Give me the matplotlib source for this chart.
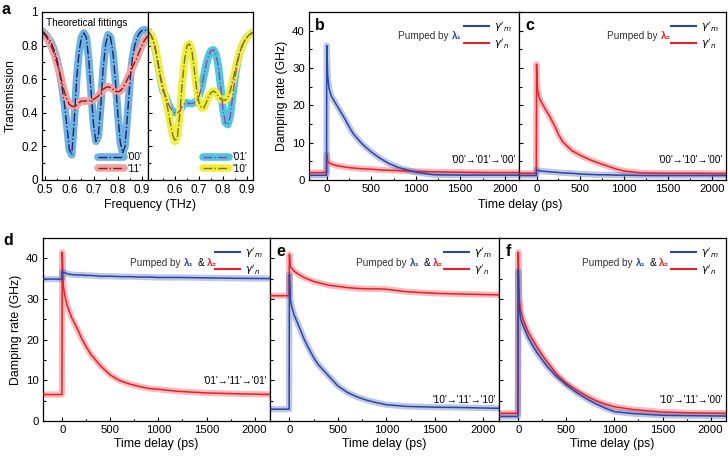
import numpy as np
import matplotlib
matplotlib.use("Agg")
import matplotlib.pyplot as plt
from matplotlib.ticker import MultipleLocator
from matplotlib.offsetbox import TextArea, HPacker, AnchoredOffsetbox

plt.rcParams['font.family'] = ['Liberation Sans', 'DejaVu Sans']
plt.rcParams['mathtext.fontset'] = 'dejavusans'

# ---- panel a : transmission spectra ----
freq = np.round(np.arange(0.49, 0.935, 0.01), 2)
T00 = [0.885, 0.87, 0.85, 0.83, 0.80, 0.76, 0.71, 0.64, 0.55, 0.45, 0.32, 0.18, 0.15, 0.35, 0.60,
       0.76, 0.85, 0.875, 0.85, 0.72, 0.52, 0.33, 0.23, 0.26, 0.45, 0.67, 0.81, 0.865, 0.85, 0.76,
       0.60, 0.40, 0.23, 0.16, 0.20, 0.38, 0.58, 0.72, 0.80, 0.85, 0.875, 0.89, 0.895, 0.89, 0.885]
T11 = [0.875, 0.86, 0.84, 0.81, 0.78, 0.74, 0.69, 0.64, 0.58, 0.52, 0.48, 0.45, 0.44, 0.435, 0.445,
       0.46, 0.47, 0.47, 0.47, 0.47, 0.475, 0.48, 0.49, 0.50, 0.52, 0.54, 0.55, 0.555, 0.55, 0.54,
       0.53, 0.525, 0.53, 0.545, 0.57, 0.60, 0.63, 0.67, 0.70, 0.73, 0.77, 0.80, 0.83, 0.85, 0.86]
T01 = [0.88, 0.86, 0.82, 0.76, 0.68, 0.60, 0.53, 0.50, 0.46, 0.43, 0.41, 0.40, 0.40, 0.41, 0.44,
       0.455, 0.46, 0.455, 0.455, 0.46, 0.47, 0.50, 0.55, 0.62, 0.69, 0.74, 0.77, 0.775, 0.75, 0.68,
       0.56, 0.42, 0.34, 0.33, 0.38, 0.50, 0.61, 0.70, 0.76, 0.80, 0.83, 0.85, 0.865, 0.875, 0.88]
T10 = [0.88, 0.86, 0.83, 0.77, 0.69, 0.61, 0.55, 0.49, 0.42, 0.34, 0.27, 0.23, 0.26, 0.40, 0.58,
       0.72, 0.80, 0.81, 0.77, 0.66, 0.54, 0.46, 0.43, 0.43, 0.46, 0.50, 0.52, 0.53, 0.52, 0.50,
       0.48, 0.475, 0.475, 0.49, 0.53, 0.59, 0.65, 0.71, 0.76, 0.80, 0.83, 0.85, 0.865, 0.875, 0.88]

# ---- panels b-f : damping rates ----
t = [-200, -3, 0, 10, 25, 50, 100, 150, 200, 250, 300, 400, 500, 600, 700, 800, 900, 1000,
     1200, 1500, 1800, 2200]
b_m = [1.25, 1.25, 36, 28, 24.5, 22.5, 20.5, 18.5, 16.5, 14.3, 12.3, 9.6, 7.5, 5.8, 4.4, 3.4, 2.7,
       2.1, 1.4, 1.3, 1.3, 1.3]
b_n = [2.0, 2.0, 6.8, 5.0, 4.6, 4.3, 3.9, 3.7, 3.5, 3.3, 3.2, 3.0, 2.9, 2.7, 2.6, 2.5, 2.4,
       2.3, 2.2, 2.1, 2.0, 2.0]
c_m = [1.2, 1.2, 2.8, 2.6, 2.5, 2.4, 2.3, 2.2, 2.1, 2.0, 1.9, 1.8, 1.6, 1.5, 1.4, 1.4, 1.3,
       1.3, 1.2, 1.2, 1.2, 1.2]
c_n = [1.8, 1.8, 31, 24.5, 22.5, 21, 19, 17, 14.8, 12.2, 10.2, 7.9, 6.6, 5.5, 4.6, 3.8, 3.0,
       2.4, 1.9, 1.8, 1.8, 1.7]
d_m = [34.9, 34.9, 36.8, 36.4, 36.5, 36.2, 36.0, 35.9, 35.9, 35.8, 35.8, 35.6, 35.6, 35.5,
       35.5, 35.4, 35.4, 35.3, 35.3, 35.2, 35.1, 35.0]
d_n = [6.5, 6.5, 41.5, 33.5, 31, 28.5, 25.3, 23, 20.4, 18.2, 16.3, 13.5, 11.3, 9.9, 9.1, 8.5,
       8.0, 7.8, 7.3, 6.9, 6.7, 6.5]
e_m = [2.9, 2.9, 36, 30, 28, 26, 23.2, 20.2, 17.8, 15.6, 13.8, 11.2, 8.6, 7.0, 5.9, 5.1, 4.5,
       4.0, 3.6, 3.4, 3.3, 3.1]
e_n = [30.8, 30.8, 41, 38, 37.5, 36.8, 36, 35.3, 34.8, 34.3, 34, 33.4, 33.1, 32.8, 32.6, 32.5,
       32.5, 32.4, 31.8, 31.4, 31.2, 31.0]
f_m = [1.1, 1.1, 37, 28, 25, 23.5, 20.7, 18.5, 16.6, 15, 13.4, 10.9, 8.9, 7.1, 5.6, 4.3, 3.2,
       2.3, 1.8, 1.4, 1.3, 1.2]
f_n = [1.9, 1.9, 41.5, 30, 27, 25, 22, 20, 18, 16.2, 14.6, 11.5, 9.3, 7.7, 6.3, 5.1, 4.2, 3.5,
       2.8, 2.2, 2.0, 1.9]

BLUE = '#2a47a8'
RED = '#e8202a'
W, H = 728, 461

fig = plt.figure(figsize=(W / 100, H / 100), dpi=100)


def box(l, r, top, bot):
    return fig.add_axes([l / W, 1 - bot / H, (r - l) / W, (bot - top) / H])


def style(ax, fs=8.2):
    ax.tick_params(which='both', direction='in', labelsize=fs, width=0.8, pad=3)
    ax.tick_params(which='major', length=3)
    ax.tick_params(which='minor', length=1.8)
    for s in ax.spines.values():
        s.set_linewidth(0.9)


def trace(ax, v, color):
    ax.plot(t, v, color=color, lw=4.5, alpha=0.3, solid_capstyle='butt', zorder=2)
    ax.plot(t, v, color=color, lw=1.1, zorder=3)


def pumped(ax, x, y, parts):
    kids = [TextArea(s, textprops=dict(color=c, fontsize=7.2, fontweight=w)) for s, c, w in parts]
    pack = HPacker(children=kids, align='baseline', pad=0, sep=2.5)
    ab = AnchoredOffsetbox(loc='lower left', child=pack, pad=0, borderpad=0, frameon=False,
                           bbox_to_anchor=(x, y), bbox_transform=ax.transAxes)
    ax.add_artist(ab)


# panel a
a1 = box(42, 148, 12, 180)
a2 = box(148, 253, 12, 180)
for ax in (a1, a2):
    ax.set_xlim(0.487, 0.925)
    ax.set_ylim(0, 1)
    ax.xaxis.set_major_locator(MultipleLocator(0.1))
    ax.xaxis.set_minor_locator(MultipleLocator(0.05))
    ax.yaxis.set_major_locator(MultipleLocator(0.2))
    ax.yaxis.set_minor_locator(MultipleLocator(0.1))
    style(ax, 8.5)

h1 = a1.plot(freq, T00, color='#6fb3e6', lw=5.5, solid_capstyle='round')[0]
h2 = a1.plot(freq, T11, color='#f0a3a3', lw=5.5, solid_capstyle='round')[0]
d1 = a1.plot(freq, T00, color='#1c2466', lw=1, ls='-.')[0]
d2 = a1.plot(freq, T11, color='#8a1c1c', lw=1, ls='-.')[0]
a1.set_yticks([0, 0.2, 0.4, 0.6, 0.8, 1.0])
a1.set_yticklabels(['0', '0.2', '0.4', '0.6', '0.8', '1'])
a1.set_xticks([0.5, 0.6, 0.7, 0.8, 0.9])
a1.set_ylabel('Transmission', fontsize=8.8, labelpad=3)
a1.text(0.04, 0.965, 'Theoretical fittings', transform=a1.transAxes, fontsize=7.2, va='top')
a1.legend([(h1, d1), (h2, d2)], ["'00'", "'11'"], loc='lower right', frameon=False,
          fontsize=7.2, handlelength=2.6, handletextpad=0.3, labelspacing=0.15,
          borderaxespad=0.2)

h3 = a2.plot(freq, T01, color='#4ec8de', lw=5.5, solid_capstyle='round')[0]
h4 = a2.plot(freq, T10, color='#f2ee3c', lw=5.5, solid_capstyle='round')[0]
d3 = a2.plot(freq, T01, color='#a23cb4', lw=1, ls='-.')[0]
d4 = a2.plot(freq, T10, color='#76742c', lw=1, ls='-.')[0]
a2.set_xticks([0.6, 0.7, 0.8, 0.9])
a2.set_yticklabels([])
a2.legend([(h3, d3), (h4, d4)], ["'01'", "'10'"], loc='lower right', frameon=False,
          fontsize=7.2, handlelength=2.6, handletextpad=0.3, labelspacing=0.15,
          borderaxespad=0.2)
fig.text(150 / W, 1 - 205 / H, 'Frequency (THz)', ha='center', va='center', fontsize=8.8)
fig.text(2 / W, 1 - 9 / H, 'a', fontsize=11.5, fontweight='bold', va='center')

# panels b-f
b = box(309, 519, 12, 180)
c = box(519, 726, 12, 180)
d = box(43, 270, 238, 421)
e = box(270, 499, 238, 421)
f = box(499, 726, 238, 421)

lam1 = ('λ₁', BLUE, 'bold')
lam2 = ('λ₂', RED, 'bold')
amp = ('&', 'black', 'normal')
pb = ('Pumped by', '#333333', 'normal')

setup = [
    (b, b_m, b_n, "'00'→'01'→'00'", [pb, lam1], 0.424, 0.83, 0.10, 'b'),
    (c, c_m, c_n, "'00'→'10'→'00'", [pb, lam2], 0.425, 0.83, 0.10, 'c'),
    (d, d_m, d_n, "'01'→'11'→'01'", [pb, lam1, amp, lam2], 0.383, 0.835, 0.20, 'd'),
    (e, e_m, e_n, "'10'→'11'→'10'", [pb, lam1, amp, lam2], 0.376, 0.835, 0.10, 'e'),
    (f, f_m, f_n, "'10'→'11'→'00'", [pb, lam1, amp, lam2], 0.366, 0.835, 0.10, 'f'),
]
for ax, vm, vn, trans, parts, px, py, ty, letter in setup:
    trace(ax, vn, RED)
    trace(ax, vm, BLUE)
    ax.set_xlim(-200, 2160)
    ax.set_ylim(0, 45)
    ax.xaxis.set_major_locator(MultipleLocator(500))
    ax.xaxis.set_minor_locator(MultipleLocator(250))
    ax.yaxis.set_major_locator(MultipleLocator(10))
    ax.yaxis.set_minor_locator(MultipleLocator(5))
    style(ax)
    lm, = ax.plot([], [], color=BLUE, lw=1.5)
    ln, = ax.plot([], [], color=RED, lw=1.5)
    ax.legend([lm, ln], [r"$\gamma'_m$", r"$\gamma'_n$"], loc='upper right', frameon=False,
              fontsize=7.5, handlelength=2.4, handletextpad=0.5, labelspacing=0.25,
              borderaxespad=0.3)
    ax.text(0.985, ty, trans, transform=ax.transAxes, ha='right', fontsize=7.2)
    pumped(ax, px, py, parts)
    if letter != 'd':
        ax.text(0.03, 0.965, letter, transform=ax.transAxes, fontsize=11.5, fontweight='bold',
                va='top')
    if ax in (d, e, f):
        ax.set_xlabel('Time delay (ps)', fontsize=8.8, labelpad=2)
    if ax in (c, e, f):
        ax.set_yticklabels([])

b.set_ylabel('Damping rate (GHz)', fontsize=8.8, labelpad=3)
d.set_ylabel('Damping rate (GHz)', fontsize=8.8, labelpad=3)
fig.text(520 / W, 1 - 205 / H, 'Time delay (ps)', ha='center', va='center', fontsize=8.8)
fig.text(3 / W, 1 - 240 / H, 'd', fontsize=11.5, fontweight='bold', va='center')

fig.savefig('out.png', dpi=100)
